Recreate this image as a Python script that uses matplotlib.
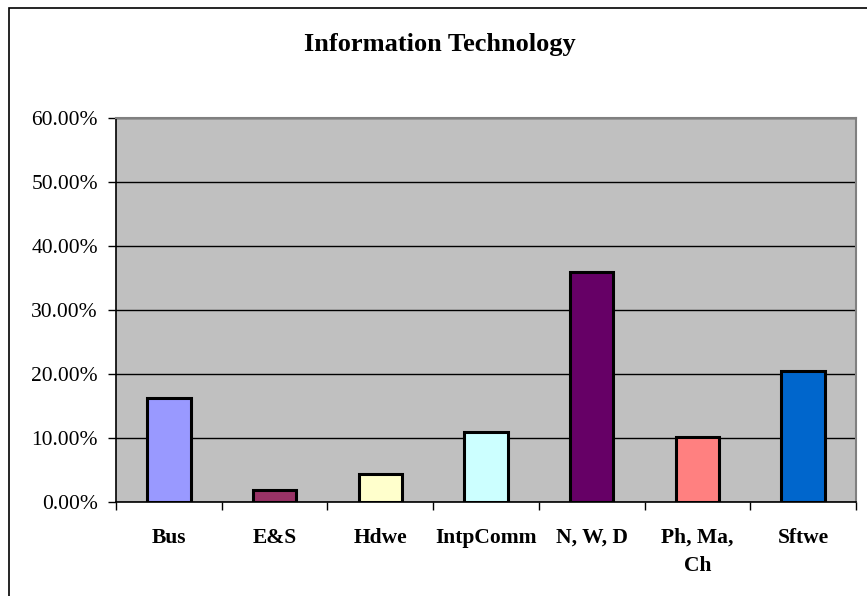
import numpy as np
import matplotlib
matplotlib.use('Agg')
from matplotlib import pyplot as plt
from matplotlib.patches import Rectangle
from matplotlib.ticker import FuncFormatter, FixedLocator

categories = ['Bus', 'E&S', 'Hdwe', 'IntpComm', 'N, W, D', 'Ph, Ma,\nCh', 'Sftwe']
shares = [16.2, 1.8, 4.4, 11.0, 35.9, 10.2, 20.5]
bar_colors = ['#9999FF', '#993366', '#FFFFCC', '#CCFFFF', '#660066', '#FF8080', '#0066CC']
y_ticks = [0, 10, 20, 30, 40, 50, 60]


def main():
    plt.rcParams['font.family'] = ['Liberation Serif', 'DejaVu Serif']

    fig = plt.figure(figsize=(8.67, 5.96), dpi=100)
    ax = fig.add_axes([116 / 867, 1 - 502 / 596, 740 / 867, 384 / 596])

    # chart area border (Excel style)
    fig.patches.append(Rectangle((9 / 867, -0.1), 1.2, 1.1 - 8 / 596, transform=fig.transFigure,
                                 fill=False, edgecolor='black', linewidth=1.2))

    x = np.arange(len(categories))
    ax.set_facecolor('#C0C0C0')
    ax.bar(x, shares, width=0.41, color=bar_colors, edgecolor='black', linewidth=2.2, zorder=3)

    ax.set_xlim(-0.5, len(categories) - 0.5)
    ax.set_ylim(0, 60)
    ax.set_yticks(y_ticks)
    ax.yaxis.set_major_formatter(FuncFormatter(lambda v, _: f'{v:.2f}%'))
    ax.yaxis.grid(True, color='black', linewidth=1.0, zorder=1)
    ax.set_axisbelow(True)

    ax.set_xticks(x)
    ax.set_xticklabels(categories, fontweight='bold', fontsize=15.5, linespacing=1.55, va='top')
    ax.xaxis.set_minor_locator(FixedLocator(np.arange(-0.5, len(categories), 1.0)))
    ax.tick_params(axis='x', which='major', length=0, pad=18.5)
    ax.tick_params(axis='x', which='minor', length=6, width=1, color='black', direction='out')
    ax.tick_params(axis='y', length=6, width=1, direction='out', labelsize=15.5, pad=7)

    for side in ['top', 'right']:
        ax.spines[side].set_color('#808080')
        ax.spines[side].set_linewidth(1.5)
    for side in ['left', 'bottom']:
        ax.spines[side].set_color('black')
        ax.spines[side].set_linewidth(1.2)

    fig.text(440 / 867, 1 - 45 / 596, 'Information Technology', ha='center', va='center',
             fontsize=19, fontweight='bold')

    plt.savefig('out.png', dpi=100)


if __name__ == '__main__':
    main()
